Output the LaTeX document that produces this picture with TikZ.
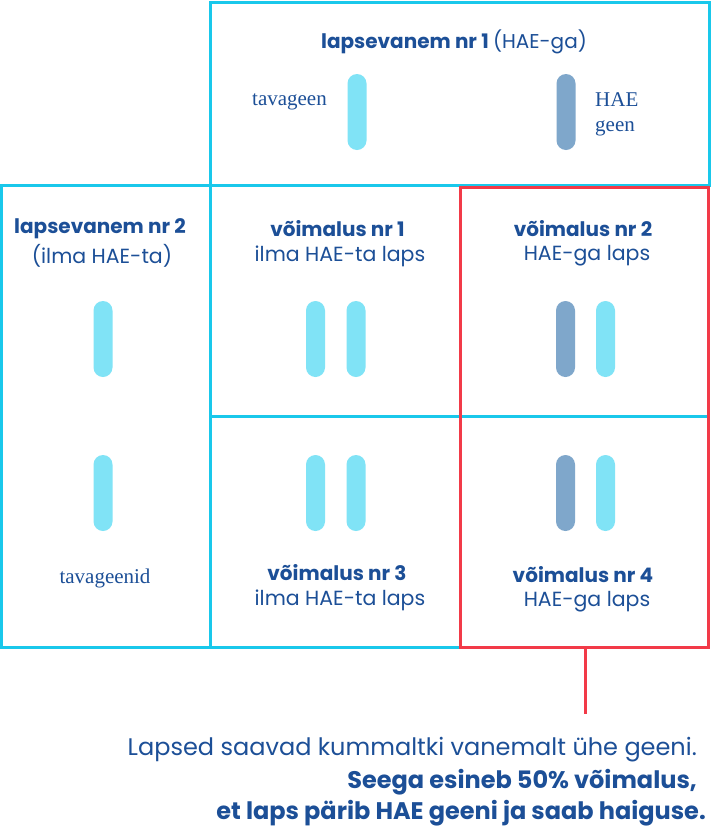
\documentclass[tikz,border=0pt]{standalone}
\usepackage{fontspec}
\setmainfont{Poppins}
\newfontfamily\serifname{Liberation Serif}
\definecolor{cyanline}{HTML}{19C8EB}
\definecolor{lightbar}{HTML}{80E3F6}
\definecolor{darkbar}{HTML}{7FA7CB}
\definecolor{hlred}{HTML}{F23A48}
\definecolor{txtblue}{HTML}{1C4F97}
\begin{document}
\begin{tikzpicture}[x=1pt,y=-1pt,
  cell/.style={draw=cyanline,line width=3pt,rectangle,inner sep=0pt},
  redbox/.style={draw=hlred,line width=3pt,rectangle,inner sep=0pt},
  bar/.style={rectangle,rounded corners=9.5pt,minimum width=19pt,minimum height=76pt,inner sep=0pt},
  lbar/.style={bar,fill=lightbar},
  dbar/.style={bar,fill=darkbar},
  ttl/.style={text=txtblue,font=\fontsize{20}{24}\selectfont\bfseries,inner sep=0pt},
  sub/.style={text=txtblue,font=\fontsize{20.5}{24}\selectfont,inner sep=0pt},
  glab/.style={text=txtblue,font=\serifname\fontsize{21}{25}\selectfont,inner sep=0pt},
  note/.style={text=txtblue,font=\fontsize{24}{28}\selectfont,inner sep=0pt,anchor=base east},
  notebold/.style={note,font=\fontsize{24}{28}\selectfont\bfseries}]
\useasboundingbox (0,0) rectangle (711,828);
\fill[white] (0,0) rectangle (711,828);
% cells
\node[cell,minimum width=499pt,minimum height=183pt] (top) at (459.5,93.5) {};
\node[cell,minimum width=208.5pt,minimum height=462pt] (left) at (105.75,416) {};
\node[cell,minimum width=250pt,minimum height=231pt] (c1) at (335,300.5) {};
\node[cell,minimum width=250pt,minimum height=231pt] (c3) at (335,531.5) {};
\node[cell,minimum width=248pt,minimum height=231pt] (c2) at (584,300.5) {};
\node[cell,minimum width=248pt,minimum height=231pt] (c4) at (584,531.5) {};
\node[redbox,minimum width=248pt,minimum height=460pt] (hl) at (584,417) {};
% top parent
\node[ttl] (p1t) at (454,42) {lapsevanem nr 1 {\mdseries(HAE-ga)}};
\node[lbar] (p1a) at (357,112) {};
\node[dbar] (p1b) at (566,112) {};
\node[glab,anchor=east] (p1al) at (327,102) {tavageen};
\node[glab,anchor=west,align=left] (p1bl) at (595,114.5) {HAE\\geen};
% left parent
\node[ttl] (p2t) at (100,229) {lapsevanem nr 2};
\node[sub] (p2s) at (102,256) {(ilma HAE-ta)};
\node[lbar] (p2a) at (103,339) {};
\node[lbar] (p2b) at (103,493) {};
\node[glab] (p2l) at (105,578) {tavageenid};
% options
\node[ttl] (o1t) at (337.5,229) {võimalus nr 1};
\node[sub] (o1s) at (340,256) {ilma HAE-ta laps};
\node[lbar] (o1a) at (315.5,339) {};
\node[lbar] (o1b) at (356,339) {};
\node[ttl] (o2t) at (583,229) {võimalus nr 2};
\node[sub] (o2s) at (587,256) {HAE-ga laps};
\node[dbar] (o2a) at (565.5,339) {};
\node[lbar] (o2b) at (605.5,339) {};
\node[lbar] (o3a) at (315.5,493) {};
\node[lbar] (o3b) at (356,493) {};
\node[ttl] (o3t) at (337,573) {võimalus nr 3};
\node[sub] (o3s) at (340,600) {ilma HAE-ta laps};
\node[dbar] (o4a) at (565.5,493) {};
\node[lbar] (o4b) at (605.5,493) {};
\node[ttl] (o4t) at (583,575) {võimalus nr 4};
\node[sub] (o4s) at (587,602) {HAE-ga laps};
% connector and note
\coordinate (cend) at (585,714);
\draw[hlred,line width=3pt] (hl.south -| cend) -- (cend);
\node[note] (n1) at (697,755) {Lapsed saavad kummaltki vanemalt ühe geeni.};
\node[notebold] (n2) at (697,788) {Seega esineb 50\% võimalus,};
\node[notebold] (n3) at (706,819) {et laps pärib HAE geeni ja saab haiguse.};
\end{tikzpicture}
\end{document}
